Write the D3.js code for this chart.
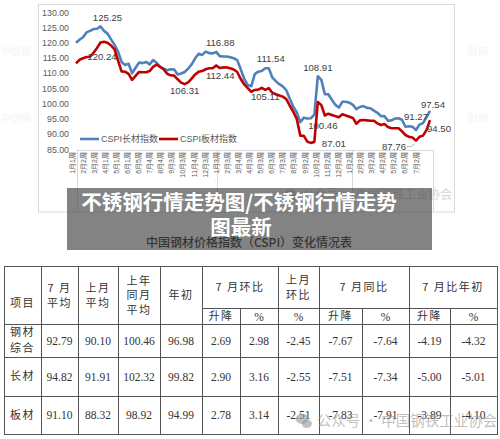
<!DOCTYPE html>
<html>
<head>
<meta charset="utf-8">
<script src="https://cdn.jsdelivr.net/npm/d3@7"></script>
<style>
  body { margin: 0; background: #fff; }
  svg { display: block; }
</style>
</head>
<body>
<div id="chart"></div>
<script>
// ---- data ----
var weekLabels = ["1月1周", "2月2周", "3月2周", "4月1周", "5月1周", "6月1周", "6月5周", "7月4周", "8月4周", "9月3周", "10月3周", "11月4周", "12月3周",
    "1月3周", "2月3周", "3月4周", "4月3周", "5月3周", "6月3周", "7月3周", "8月3周", "9月2周", "10月2周", "11月2周", "12月2周",
    "1月2周", "2月2周", "3月2周", "4月2周", "5月2周", "6月2周", "7月2周"];

var yTicks = [85, 90, 95, 100, 105, 110, 115, 120, 125, 130];

// CSPI长材指数 (weekly)
var longIndex = [119.9, 120.9, 121.7, 123.3, 123.8, 124.4, 124.5, 125.25, 123.8, 122.9,
    121.0, 119.2, 117.0, 113.6, 112.6, 113.0, 109.9, 111.7, 113.4, 113.2,
    113.6, 112.8, 114.2, 113.3, 112.0, 111.4, 110.9, 111.2, 111.1, 109.5,
    109.8, 110.3, 111.4, 112.8, 114.8, 116.3, 115.9, 117.0, 116.5, 116.4,
    116.88, 115.5, 115.4, 115.4, 115.1, 114.8, 114.2, 111.2, 108.0, 106.0,
    105.6, 109.6, 110.4, 110.6, 111.5, 111.54, 108.5, 107.3, 106.3, 105.6,
    104.3, 101.5, 98.9, 97.0, 93.8, 95.3, 95.0, 95.1, 96.3, 108.91,
    107.7, 103.0, 103.0, 101.2, 99.5, 98.6, 100.5, 100.5, 100.2, 99.5,
    98.1, 98.8, 99.1, 98.5, 98.4, 97.6, 96.9, 95.8, 95.8, 94.3,
    94.4, 95.0, 95.1, 94.6, 92.3, 92.5, 92.3, 91.27, 93.0, 93.5,
    95.5, 97.54];

// CSPI板材指数 (weekly)
var plateIndex = [113.1, 114.3, 114.8, 115.2, 115.3, 116.6, 118.2, 120.0, 120.24, 119.9,
    119.0, 117.7, 114.0, 110.5, 110.4, 109.7, 107.7, 109.0, 110.3, 110.2,
    110.2, 110.6, 112.0, 112.7, 112.0, 111.2, 109.7, 109.2, 109.1, 107.9,
    106.8, 106.31, 106.9, 108.1, 109.5, 110.4, 110.6, 111.2, 111.5, 111.5,
    112.44, 111.6, 111.8, 111.8, 111.5, 111.1, 110.3, 108.0, 106.2, 105.0,
    103.8, 104.4, 104.5, 105.11, 104.4, 105.0, 103.5, 103.0, 102.6, 102.2,
    101.4, 99.2, 97.2, 94.8, 89.4, 89.3, 87.4, 87.01, 87.3, 100.46,
    99.4, 96.0, 96.6, 96.2, 95.8, 95.4, 96.4, 96.0, 95.6, 95.2,
    93.3, 94.4, 94.5, 94.4, 94.3, 94.3, 93.4, 92.9, 93.2, 92.2,
    91.8, 91.8, 91.8, 90.8, 89.6, 89.0, 88.8, 87.76, 89.0, 89.4,
    91.2, 94.5];

var seriesNames = ["CSPI长材指数", "CSPI板材指数"];

// value labels: text, series (0 long / 1 plate), point index
var labelTexts = ["125.25", "120.24", "106.31", "116.88", "112.44", "111.54", "105.11", "108.91", "100.46", "87.01", "91.27", "97.54", "94.50", "87.76"];
var labelSeries = [0, 1, 1, 0, 1, 0, 0, 0, 1, 1, 0, 0, 1, 1];
var labelPoint = [7, 8, 31, 40, 40, 55, 50, 69, 69, 67, 97, 101, 101, 97];

// table
var tableTitle = "中国钢材价格指数（CSPI）变化情况表";
var rowNames = [["钢材", "综合"], ["长材"], ["板材"]];
var rowValues = [
    ["92.79", "90.10", "100.46", "96.98", "2.69", "2.98", "-2.45", "-7.67", "-7.64", "-4.19", "-4.32"],
    ["94.82", "91.91", "102.32", "99.82", "2.90", "3.16", "-2.55", "-7.51", "-7.34", "-5.00", "-5.01"],
    ["91.10", "88.32", "98.92", "94.99", "2.78", "3.14", "-2.51", "-7.83", "-7.91", "-3.89", "-4.10"]
];

var W = 500, H = 439;
var cjk = "'Liberation Sans', 'Noto Sans CJK SC', sans-serif";
var svg = d3.select("#chart").append("svg").attr("width", W).attr("height", H);

// faint side watermarks
[55, 122].forEach(function (yy) {
    svg.append("text").attr("x", 16).attr("y", yy).attr("text-anchor", "middle")
        .style("font", "bold 10px 'Noto Sans CJK SC'").attr("fill", "#f7f7f7").text("中国钢");
    svg.append("text").attr("x", 478).attr("y", yy).attr("text-anchor", "middle")
        .style("font", "bold 10px 'Noto Sans CJK SC'").attr("fill", "#f7f7f7").text("财网");
});

// ---- chart ----
svg.append("rect").attr("x", 38.5).attr("y", 4.5).attr("width", 416).attr("height", 207.5)
    .attr("fill", "none").attr("stroke", "#d9d9d9");

var x = d3.scaleLinear().domain([0, longIndex.length - 1]).range([76, 430]);
var y = d3.scaleLinear().domain([85, 130]).range([149, 12]);
var xl = d3.scalePoint().domain(d3.range(weekLabels.length)).range([72, 416]);

var yAxis = d3.axisLeft(y).tickValues(yTicks).tickFormat(d3.format(".2f")).tickSize(0).tickPadding(0);
var gy = svg.append("g").attr("transform", "translate(69,0)").call(yAxis);
gy.select(".domain").remove();
gy.selectAll("text").style("font", "8.8px 'Liberation Sans'").attr("fill", "#595959").attr("dy", "0.35em");

// category box
var gx = svg.append("g").attr("stroke", "#d9d9d9").attr("fill", "none");
gx.append("line").attr("x1", 77).attr("x2", 433).attr("y1", 150.5).attr("y2", 150.5);
[77, 217, 352, 433].forEach(function (xx) {
    gx.append("line").attr("x1", xx + 0.5).attr("x2", xx + 0.5).attr("y1", 150).attr("y2", 211);
});

svg.append("g").selectAll("text").data(weekLabels).enter().append("text")
    .attr("transform", function (d, i) { return "translate(" + (xl(i) + 2.5) + ",152) rotate(-90)"; })
    .attr("text-anchor", "end")
    .style("font", "7px " + cjk).attr("fill", "#595959")
    .text(function (d) { return d; });

var line = d3.line().x(function (d, i) { return x(i); }).y(function (d) { return y(d); }).curve(d3.curveLinear);
var colors = ["#4f81bd", "#c00000"];
[longIndex, plateIndex].forEach(function (s, k) {
    svg.append("path").datum(s).attr("d", line).attr("fill", "none")
        .attr("stroke", colors[k]).attr("stroke-width", 2.6).attr("stroke-linejoin", "round");
});

// value labels
var labelOffset = [[7, -8.5], [-2, 15], [0, 7], [4, -9], [4, 10.5], [2, -10], [14, 10], [0, -9], [5, 24], [23, 1], [0, -13], [3, -6], [9, 9], [-22, 6]];
labelTexts.forEach(function (t, i) {
    var s = labelSeries[i] === 0 ? longIndex : plateIndex;
    var px = x(labelPoint[i]), py = y(s[labelPoint[i]]);
    svg.append("text").attr("x", px + labelOffset[i][0]).attr("y", py + labelOffset[i][1])
        .attr("text-anchor", "middle").attr("dy", "0.35em")
        .style("font", "9.6px 'Liberation Sans'").attr("fill", "#404040").text(t);
});
// leader for 87.76
svg.append("path").attr("d", "M" + (x(97) - 9) + "," + (y(plateIndex[97]) + 6) + "l4,0l4,-3")
    .attr("fill", "none").attr("stroke", "#a6a6a6").attr("stroke-width", 0.8);

// legend
var lg = svg.append("g").attr("transform", "translate(80,139)");
var lgX = [0, 79];
seriesNames.forEach(function (n, k) {
    lg.append("line").attr("x1", lgX[k]).attr("x2", lgX[k] + 19).attr("stroke", colors[k]).attr("stroke-width", 2.6);
    lg.append("text").attr("x", lgX[k] + 21).attr("dy", "0.35em")
        .style("font", "9px " + cjk).attr("fill", "#595959").text(n);
});

// watermark under the banner
function wechatMark(cx, cy, size, fill, fs, str) {
    var g = svg.append("g").attr("fill", fill);
    g.append("ellipse").attr("cx", cx).attr("cy", cy - size * 0.15).attr("rx", size * 0.45).attr("ry", size * 0.36);
    g.append("ellipse").attr("cx", cx + size * 0.35).attr("cy", cy + size * 0.2).attr("rx", size * 0.36).attr("ry", size * 0.3);
    g.append("text").attr("x", cx + size * 1.05).attr("y", cy).attr("dy", "0.36em")
        .style("font", fs + "px 'Noto Sans CJK SC'").text(str);
}
wechatMark(290, 195, 12, "#d6d6d6", 12, "公众号 · 中国钢铁工业协会");

// table title (under banner)
svg.append("text").attr("x", 249).attr("y", 243).attr("text-anchor", "middle").attr("dy", "0.36em")
    .style("font", "500 12px 'Noto Sans CJK SC'").attr("fill", "#333").text(tableTitle);

// banner
svg.append("rect").attr("x", 67).attr("y", 188).attr("width", 365).attr("height", 62).attr("fill", "rgba(55,55,55,0.62)");
svg.append("text").attr("x", 239).attr("y", 203).attr("text-anchor", "middle").attr("dy", "0.36em")
    .style("font", "bold 20.5px 'Noto Sans CJK SC'").attr("fill", "#fff").text("不锈钢行情走势图/不锈钢行情走势");
svg.append("text").attr("x", 241).attr("y", 228).attr("text-anchor", "middle").attr("dy", "0.36em")
    .style("font", "bold 20.5px 'Noto Sans CJK SC'").attr("fill", "#fff").text("图最新");

// ---- table ----
var colEdges = [4, 41, 78, 118, 160, 202, 240, 278, 319, 362, 409, 450, 497];
var rowEdges = [266, 308, 324, 357, 396, 434];
var tg = svg.append("g");
var zh = "11px 'Noto Sans CJK SC'";
var num = "11.5px 'Liberation Serif'";
function cx(a, b) { return (colEdges[a] + colEdges[b + 1]) / 2; }
function cellText(xc, yc, lines, font, gap) {
    lines.forEach(function (t, i) {
        tg.append("text").attr("x", xc).attr("y", yc + (i - (lines.length - 1) / 2) * gap)
            .attr("text-anchor", "middle").attr("dy", "0.36em")
            .style("font", font).style("letter-spacing", font === zh ? "1.5px" : "0px")
            .attr("fill", "#333").text(t);
    });
}
// header
cellText(cx(0, 0), 303, ["项目"], zh, 15);
cellText(cx(1, 1), 295.5, ["7 月", "平均"], zh, 15);
cellText(cx(2, 2), 295.5, ["上月", "平均"], zh, 15);
cellText(cx(3, 3), 295.5, ["上年", "同月", "平均"], zh, 14.5);
cellText(cx(4, 4), 295, ["年初"], zh, 15);
cellText(cx(5, 6), 287, ["7 月环比"], zh, 15);
cellText(cx(7, 7), 287.5, ["上月", "环比"], zh, 15);
cellText(cx(8, 9), 287, ["7 月同比"], zh, 15);
cellText(cx(10, 11), 287, ["7 月比年初"], zh, 15);
var subHead = ["升降", "%", "%", "升降", "%", "升降", "%"];
subHead.forEach(function (t, i) { cellText(cx(5 + i, 5 + i), 316.5, [t], t === "%" ? num : zh, 15); });
// rows
rowNames.forEach(function (n, r) {
    var yc = (rowEdges[r + 2] + rowEdges[r + 3]) / 2;
    cellText(cx(0, 0), yc, n, zh, 16);
    rowValues[r].forEach(function (v, c) { cellText(cx(c + 1, c + 1), yc, [v], num, 15); });
});
// grid
var tl = tg.append("g").attr("stroke", "#555").attr("stroke-width", 1);
function hl(x1, x2, yy) { tl.append("line").attr("x1", x1).attr("x2", x2).attr("y1", yy + 0.5).attr("y2", yy + 0.5); }
function vl(xx, y1, y2) { tl.append("line").attr("x1", xx + 0.5).attr("x2", xx + 0.5).attr("y1", y1).attr("y2", y2); }
hl(colEdges[0], colEdges[12] + 1, rowEdges[0]);
hl(colEdges[5], colEdges[12] + 1, rowEdges[1]);
[2, 3, 4, 5].forEach(function (r) { hl(colEdges[0], colEdges[12] + 1, rowEdges[r]); });
colEdges.forEach(function (xx, i) {
    var top = (i === 6 || i === 9 || i === 11) ? rowEdges[1] : rowEdges[0];
    vl(xx, top, rowEdges[5] + 1);
});

// bottom watermark (overlaps the last row, as in the source)
wechatMark(302, 421, 14, "rgba(150,150,150,0.6)", 14.5, "公众号 · 中国钢铁工业协会");
</script>
</body>
</html>
